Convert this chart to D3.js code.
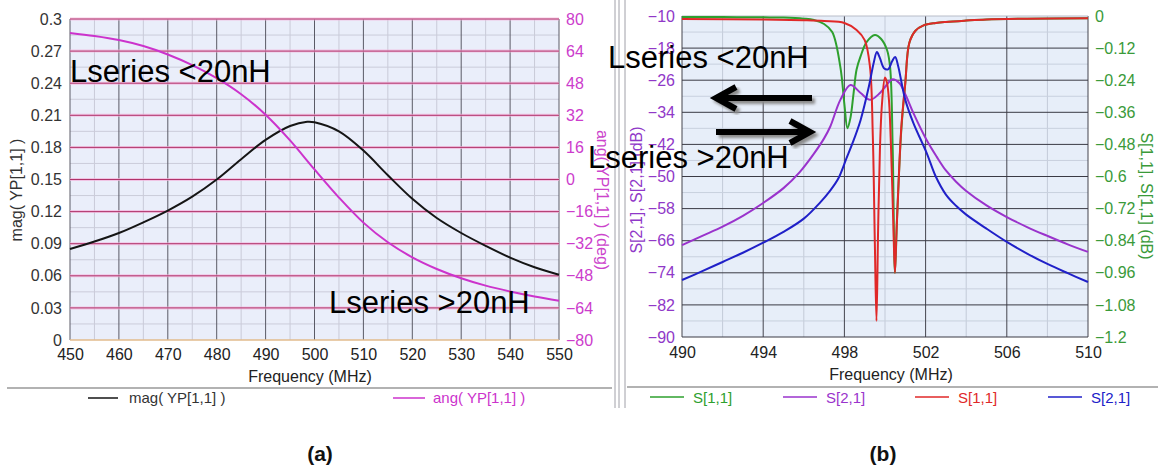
<!DOCTYPE html>
<html><head><meta charset="utf-8">
<script src="https://cdn.jsdelivr.net/npm/d3@7"></script>
<style>
body{margin:0;background:#fff}
svg{display:block}
text{font-family:"Liberation Sans",Arial,sans-serif}
</style>
</head><body>
<svg id="chart" width="1158" height="470"></svg>
<script>
// ---------- panel (a): admittance YP[1,1] vs frequency ----------
const freqMag = [450,455,460,465,470,475,480,485,490,495,498.5,500,505,510,515,520,525,530,535,540,545,550];
const magYP   = [0.085,0.092,0.100,0.110,0.121,0.134,0.150,0.169,0.187,0.200,0.204,0.2035,0.195,0.177,0.154,0.132,0.114,0.100,0.088,0.077,0.068,0.061];
const freqAng = [450,455,460,465,470,475,480,485,490,495,500,505,510,515,520,525,530,535,540,545,550];
const angYP   = [73,71.5,69.5,66.5,62.3,57,50.5,42.5,32.3,19.5,5,-9,-21.5,-31.3,-38.8,-44.6,-49.2,-52.9,-55.8,-58.3,-60.4];
const freqTicksA = [450,460,470,480,490,500,510,520,530,540,550];
const magTicks   = [0,0.03,0.06,0.09,0.12,0.15,0.18,0.21,0.24,0.27,0.3];
const angTicks   = [80,64,48,32,16,0,-16,-32,-48,-64,-80];

// ---------- panel (b): S-parameters vs frequency ----------
const freqS11g = [490,492,494,495,496,496.5,497,497.4,497.8,498.0,498.15,498.3,498.45,498.6,498.8,499.1,499.5,499.8,500.1,500.25,500.38,500.49,500.6,500.8,501.0,501.2,501.5,501.9,502.5,503,504,505,507,510];
const s11Green = [-0.004,-0.004,-0.005,-0.006,-0.01,-0.015,-0.03,-0.06,-0.19,-0.33,-0.42,-0.38,-0.29,-0.2,-0.15,-0.097,-0.071,-0.085,-0.127,-0.19,-0.5,-0.96,-0.74,-0.43,-0.25,-0.1,-0.055,-0.035,-0.026,-0.022,-0.017,-0.013,-0.01,-0.008];
const freqS21p = [490,491,492,493,494,495,495.8,496.5,497,497.3,497.8,498.3,498.8,499.26,499.75,500.0,500.35,500.7,501.0,501.4,502.05,502.55,503,503.5,504,505,506,507,508,509,510];
const s21Purple = [-67.1,-64.8,-62.5,-59.8,-56.6,-52.9,-48.9,-44.3,-40.5,-37.6,-30.9,-27.2,-29.2,-30.9,-29.2,-27.7,-25.8,-26.7,-29.5,-34.2,-40.9,-45.1,-48.5,-51.3,-53.6,-57.2,-60.1,-62.6,-64.8,-66.9,-68.8];
const freqS11r = [490,494,496,497,498,498.6,499.0,499.26,499.4,499.5,499.58,499.66,499.75,499.85,500.0,500.1,500.2,500.3,500.4,500.49,500.56,500.65,500.8,501.0,501.2,501.5,501.9,502.5,503,504,505,507,510];
const s11Red = [-0.011,-0.013,-0.016,-0.019,-0.026,-0.052,-0.09,-0.19,-0.45,-0.85,-1.14,-0.8,-0.5,-0.33,-0.23,-0.25,-0.32,-0.5,-0.75,-0.96,-0.82,-0.66,-0.42,-0.25,-0.1,-0.055,-0.035,-0.026,-0.022,-0.017,-0.013,-0.01,-0.008];
const freqS21b = [490,491,492,493,494,495,496,496.8,497.3,497.7,498.1,498.4,498.8,499.2,499.45,499.6,499.75,499.95,500.15,500.35,500.5,500.65,500.85,501.0,501.4,502.05,502.5,503,503.5,504,505,506,507,508,509,510];
const s21Blue = [-75.8,-73.6,-71.3,-69,-66.5,-63.8,-60.5,-56.5,-53.5,-50.5,-45.5,-41.7,-35.9,-27.7,-21.5,-19,-20.5,-23,-23.3,-21.3,-20.2,-22.5,-27.5,-30.9,-36.7,-44.1,-50,-54.5,-57.3,-59.5,-63,-66.3,-69.2,-71.8,-74.1,-76.3];
const freqTicksB = [490,494,498,502,506,510];
const s21Ticks = [-10,-18,-26,-34,-42,-50,-58,-66,-74,-82,-90];
const s11Ticks = [0,-0.12,-0.24,-0.36,-0.48,-0.6,-0.72,-0.84,-0.96,-1.08,-1.2];

const svg = d3.select("#chart");
const FS = 16;
const smooth = d3.curveCatmullRom.alpha(0.5);

// helper: draw a series as a smooth line
function series(g, xs, ys, x, y, color, width) {
  const pts = xs.map((f, i) => [f, ys[i]]);
  g.append("path")
    .attr("d", d3.line().x(d => x(d[0])).y(d => y(d[1])).curve(smooth)(pts))
    .attr("fill", "none").attr("stroke", color).attr("stroke-width", width)
    .attr("stroke-linejoin", "round");
}

function styleAxis(sel, color) {
  sel.select(".domain").remove();
  sel.selectAll(".tick line").remove();
  sel.selectAll("text").attr("fill", color).style("font-size", FS + "px")
    .style("font-family", '"Liberation Sans",Arial,sans-serif');
}

// ================= PANEL (a) =================
const xA = d3.scaleLinear([450, 550], [70, 559]);
const yMag = d3.scaleLinear([0, 0.3], [340, 19]);
const yAng = d3.scaleLinear([-80, 80], [340, 19]);

const gA = svg.append("g");
gA.append("rect").attr("x", xA(450)).attr("y", yMag(0.3))
  .attr("width", xA(550) - xA(450)).attr("height", yMag(0) - yMag(0.3)).attr("fill", "#eaeefa");

// minor grid
const minorXA = d3.range(455, 550, 10);
gA.selectAll(".mxa").data(minorXA).join("line")
  .attr("x1", d => xA(d)).attr("x2", d => xA(d)).attr("y1", yMag(0.3)).attr("y2", yMag(0))
  .attr("stroke", "#c9cad8").attr("stroke-width", 1);
const minorYA = magTicks.slice(0, -1).map(v => v + 0.015);
gA.selectAll(".mya").data(minorYA).join("line")
  .attr("x1", xA(450)).attr("x2", xA(550)).attr("y1", d => yMag(d)).attr("y2", d => yMag(d))
  .attr("stroke", "#cbccda").attr("stroke-width", 1);
// major grid
gA.selectAll(".gxa").data(freqTicksA).join("line")
  .attr("x1", d => xA(d)).attr("x2", d => xA(d)).attr("y1", yMag(0.3)).attr("y2", yMag(0))
  .attr("stroke", "#5a5a66").attr("stroke-width", 1);
gA.selectAll(".gya2").data(magTicks.slice(1)).join("line")
  .attr("x1", xA(450)).attr("x2", xA(550)).attr("y1", d => yMag(d)).attr("y2", d => yMag(d))
  .attr("stroke", "#f3b3dc").attr("stroke-width", 3).attr("opacity", 0.7);
gA.selectAll(".gya").data(magTicks.slice(1)).join("line")
  .attr("x1", xA(450)).attr("x2", xA(550)).attr("y1", d => yMag(d)).attr("y2", d => yMag(d))
  .attr("stroke", "#b0346a").attr("stroke-width", 1);
gA.append("line").attr("x1", xA(450)).attr("x2", xA(550)).attr("y1", yMag(0)).attr("y2", yMag(0))
  .attr("stroke", "#e2bb8c").attr("stroke-width", 1.5);

// axes
const axAx = gA.append("g").attr("transform", `translate(0,${yMag(0)})`)
  .call(d3.axisBottom(xA).tickValues(freqTicksA).tickSize(0).tickPadding(8.6).tickFormat(d3.format("d")));
styleAxis(axAx, "#222");
const axAl = gA.append("g").attr("transform", `translate(${xA(450)},0)`)
  .call(d3.axisLeft(yMag).tickValues(magTicks).tickSize(0).tickPadding(8).tickFormat(d => d === 0 ? "0" : d3.format(".2~f")(d)));
styleAxis(axAl, "#333");
const axAr = gA.append("g").attr("transform", `translate(${xA(550)},0)`)
  .call(d3.axisRight(yAng).tickValues(angTicks).tickSize(0).tickPadding(7).tickFormat(d3.format("d")));
styleAxis(axAr, "#cc3ccc");

// curves
series(gA, freqMag, magYP, xA, yMag, "#151515", 2);
series(gA, freqAng, angYP, xA, yAng, "#cc33cc", 2);

// titles
gA.append("text").attr("transform", "translate(22,190) rotate(-90)").attr("text-anchor", "middle")
  .attr("fill", "#333").style("font-size", FS + "px").text("mag( YP[1,1] )");
gA.append("text").attr("transform", "translate(597,200) rotate(90)").attr("text-anchor", "middle")
  .attr("fill", "#cc44cc").style("font-size", FS + "px").text("ang( YP[1,1] ) (deg)");
gA.append("text").attr("x", 310).attr("y", 382).attr("text-anchor", "middle")
  .attr("fill", "#222").style("font-size", FS + "px").text("Frequency (MHz)");

// legend
gA.append("line").attr("x1", 7).attr("x2", 612).attr("y1", 388).attr("y2", 388).attr("stroke", "#999").attr("stroke-width", 1.5);
gA.append("line").attr("x1", 88).attr("x2", 118).attr("y1", 398).attr("y2", 398).attr("stroke", "#151515").attr("stroke-width", 1.5);
gA.append("text").attr("x", 129).attr("y", 403).attr("fill", "#333").style("font-size", "15px").text("mag( YP[1,1] )");
gA.append("line").attr("x1", 393).attr("x2", 425).attr("y1", 398).attr("y2", 398).attr("stroke", "#cc33cc").attr("stroke-width", 1.5);
gA.append("text").attr("x", 433).attr("y", 403).attr("fill", "#cc33cc").style("font-size", "15px").text("ang( YP[1,1] )");

// ================= divider =================
[615, 619, 625].forEach(x => svg.append("line").attr("x1", x).attr("x2", x).attr("y1", 0).attr("y2", 408)
  .attr("stroke", "#a0a0a8").attr("stroke-width", 1));

// ================= PANEL (b) =================
const xB = d3.scaleLinear([490, 510], [682, 1088]);
const yS21 = d3.scaleLinear([-90, -10], [337, 16]);
const yS11 = d3.scaleLinear([-1.2, 0], [337, 16]);

const gB = svg.append("g");
gB.append("rect").attr("x", xB(490)).attr("y", yS21(-10))
  .attr("width", xB(510) - xB(490)).attr("height", yS21(-90) - yS21(-10)).attr("fill", "#e7eef9");

const minorXB = d3.range(492, 510, 4);
gB.selectAll(".mxb").data(minorXB).join("line")
  .attr("x1", d => xB(d)).attr("x2", d => xB(d)).attr("y1", yS21(-10)).attr("y2", yS21(-90))
  .attr("stroke", "#c3cad8").attr("stroke-width", 1);
const minorYB = s21Ticks.slice(0, -1).map(v => v - 4);
gB.selectAll(".myb").data(minorYB).join("line")
  .attr("x1", xB(490)).attr("x2", xB(510)).attr("y1", d => yS21(d)).attr("y2", d => yS21(d))
  .attr("stroke", "#c8d0de").attr("stroke-width", 1);
gB.selectAll(".gxb").data(freqTicksB).join("line")
  .attr("x1", d => xB(d)).attr("x2", d => xB(d)).attr("y1", yS21(-10)).attr("y2", yS21(-90))
  .attr("stroke", "#45454f").attr("stroke-width", 1);
gB.selectAll(".gyb").data(s21Ticks).join("line")
  .attr("x1", xB(490)).attr("x2", xB(510)).attr("y1", d => yS21(d)).attr("y2", d => yS21(d))
  .attr("stroke", d => d === -10 ? "#b8bcc8" : "#3a3a44").attr("stroke-width", 1);

const axBx = gB.append("g").attr("transform", `translate(0,${yS21(-90)})`)
  .call(d3.axisBottom(xB).tickValues(freqTicksB).tickSize(0).tickPadding(9.6).tickFormat(d3.format("d")));
styleAxis(axBx, "#222");
const axBl = gB.append("g").attr("transform", `translate(${xB(490)},0)`)
  .call(d3.axisLeft(yS21).tickValues(s21Ticks).tickSize(0).tickPadding(7).tickFormat(d3.format("d")));
styleAxis(axBl, "#9038c8");
const axBr = gB.append("g").attr("transform", `translate(${xB(510)},0)`)
  .call(d3.axisRight(yS11).tickValues(s11Ticks).tickSize(0).tickPadding(7).tickFormat(d => d === 0 ? "0" : d3.format(".2~f")(d)));
styleAxis(axBr, "#3a9a3a");

series(gB, freqS11g, s11Green, xB, yS11, "#2ea02e", 2);
series(gB, freqS21p, s21Purple, xB, yS21, "#9a33cc", 2);
series(gB, freqS11r, s11Red, xB, yS11, "#e02828", 2);
series(gB, freqS21b, s21Blue, xB, yS21, "#2020c8", 2);

gB.append("text").attr("transform", "translate(642,190) rotate(-90)").attr("text-anchor", "middle")
  .attr("fill", "#9038c8").style("font-size", FS + "px").text("S[2,1], S[2,1] (dB)");
gB.append("text").attr("transform", "translate(1141,196) rotate(90)").attr("text-anchor", "middle")
  .attr("fill", "#3a9a3a").style("font-size", FS + "px").text("S[1,1], S[1,1] (dB)");
gB.append("text").attr("x", 891).attr("y", 380).attr("text-anchor", "middle")
  .attr("fill", "#222").style("font-size", FS + "px").text("Frequency (MHz)");

gB.append("line").attr("x1", 627).attr("x2", 1158).attr("y1", 387).attr("y2", 387).attr("stroke", "#999").attr("stroke-width", 1.5);
const legB = [
  {x: 650, c: "#2ea02e", t: "S[1,1]"},
  {x: 783, c: "#9a33cc", t: "S[2,1]"},
  {x: 915, c: "#e02828", t: "S[1,1]"},
  {x: 1048, c: "#2020c8", t: "S[2,1]"}
];
legB.forEach(d => {
  gB.append("line").attr("x1", d.x).attr("x2", d.x + 34).attr("y1", 397).attr("y2", 397).attr("stroke", d.c).attr("stroke-width", 1.5);
  gB.append("text").attr("x", d.x + 43).attr("y", 403).attr("fill", d.c).style("font-size", "15px").text(d.t);
});

// ================= annotations =================
const defs = svg.append("defs");
defs.append("filter").attr("id", "soft").append("feGaussianBlur").attr("stdDeviation", 1.6);

function arrow(g, x0, x1, y, color, offset, filter) {
  const dir = Math.sign(x1 - x0);
  const gg = g.append("g").attr("transform", `translate(${offset},${offset + 1})`);
  if (filter) gg.attr("filter", filter);
  gg.append("line").attr("x1", x0).attr("x2", x1 - dir * 4).attr("y1", y).attr("y2", y)
    .attr("stroke", color).attr("stroke-width", 6);
  gg.append("path").attr("d", `M${x1 - dir * 20},${y - 11} L${x1},${y} L${x1 - dir * 20},${y + 11}`)
    .attr("fill", "none").attr("stroke", color).attr("stroke-width", 6).attr("stroke-linejoin", "miter");
}
const gN = svg.append("g");
arrow(gN, 812, 716, 97, "#8a8a8a", 3, "url(#soft)");
arrow(gN, 716, 810, 131, "#8a8a8a", 3, "url(#soft)");
arrow(gN, 812, 716, 97, "#000", 0, null);
arrow(gN, 716, 810, 131, "#000", 0, null);

const notes = [
  {x: 70, y: 82, t: "Lseries <20nH"},
  {x: 329, y: 313, t: "Lseries >20nH"},
  {x: 608, y: 68, t: "Lseries <20nH"},
  {x: 588, y: 168, t: "Lseries >20nH"}
];
gN.selectAll(".note").data(notes).join("text")
  .attr("x", d => d.x).attr("y", d => d.y).attr("fill", "#000")
  .style("font-size", "31px").text(d => d.t);

// panel captions
svg.append("text").attr("x", 320).attr("y", 461).attr("text-anchor", "middle")
  .style("font-size", "21px").style("font-weight", "bold").attr("fill", "#111").text("(a)");
svg.append("text").attr("x", 883).attr("y", 461).attr("text-anchor", "middle")
  .style("font-size", "21px").style("font-weight", "bold").attr("fill", "#111").text("(b)");
</script>
</body></html>
